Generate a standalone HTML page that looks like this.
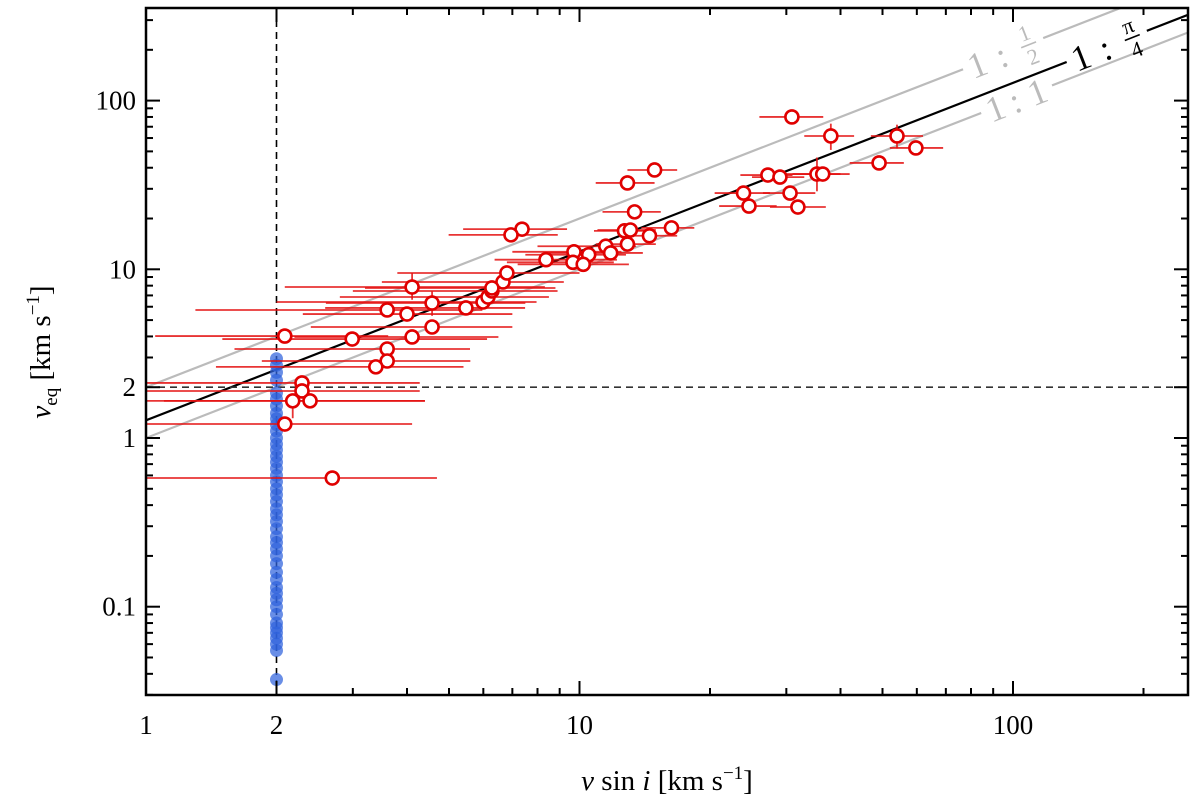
<!DOCTYPE html>
<html><head><meta charset="utf-8"><style>
body{margin:0;background:#fff;}
svg{display:block;font-family:"Liberation Serif",serif;}
</style></head><body>
<svg id="chart" width="1200" height="808" viewBox="0 0 1200 808">
<g id="plot"></g>
</svg>
<script>
const redX=[2.09,2.99,3.60,4.11,4.00,4.57,4.57,4.11,3.60,3.60,3.39,5.47,5.99,6.15,6.28,6.66,6.80,2.29,2.29,2.18,2.39,2.09,2.69,14.9,12.9,13.4,7.37,6.95,12.7,13.1,16.3,14.5,12.9,11.5,11.8,9.71,9.66,10.5,10.2,8.37,6.28,30.9,38.0,54.0,59.7,49.1,27.2,29.0,35.3,36.4,23.9,24.6,30.6,31.9];
const redY=[4.02,3.86,5.74,7.85,5.43,6.31,4.55,3.97,3.37,2.86,2.64,5.90,6.40,6.85,7.44,8.41,9.51,2.12,1.90,1.66,1.66,1.21,0.579,38.8,32.5,21.9,17.3,16.0,16.9,17.1,17.6,15.8,14.1,13.7,12.5,12.7,11.0,12.2,10.7,11.4,7.75,80.0,61.7,61.7,52.4,42.7,36.2,35.2,36.7,36.7,28.3,23.7,28.3,23.4];
const redXlo=[1.05,1.50,1.30,2.09,2.3,2.6,2.4,2.2,1.60,1.85,1.45,2.59,2.0,2.8,3.0,3.5,3.8,1.0,1.0,1.0,1.1,1.0,1.0,12.9,10.9,11.3,5.39,4.99,10.8,11.0,13.9,12.5,10.9,8.0,8.5,7.0,6.8,7.5,7.2,6.37,3.2,26.0,33,47,52,42,23.5,25,30,31,20.5,21,26.5,27.5];
const redXhi=[3.62,6.12,5.97,8.32,7.0,7.5,7.0,6.5,5.59,5.6,5.4,7.49,7.96,8.5,8.9,9.2,10.0,4.28,4.28,4.40,4.40,4.11,4.69,16.8,14.9,15.4,9.36,8.91,14.8,15.0,18.4,16.8,15.0,13.5,14.0,12.5,12.0,12.8,13.0,12.2,8.8,36.5,43,62,69,56,31,33,40,42,27.5,28.5,35,37];
const yerrIdx=[3,5,19,42,43,48];
const yerrLo=[6.6,5.3,1.31,51,52,29];
const yerrHi=[9.5,7.4,1.66,73,72,46];
const blueY=[2.95,2.7,2.45,2.2,1.85,1.7,1.55,1.4,1.3,1.2,1.1,1.0,0.92,0.85,0.78,0.72,0.66,0.6,0.55,0.5,0.46,0.42,0.38,0.35,0.32,0.29,0.26,0.24,0.22,0.2,0.18,0.16,0.145,0.13,0.12,0.11,0.1,0.09,0.08,0.075,0.07,0.065,0.06,0.055,0.037];
const blueXval=2;
const xTicks=[1,2,10,100];
const xTickLabels=["1","2","10","100"];
const yTicks=[0.1,1,2,10,100];
const yTickLabels=["0.1","1","2","10","100"];
const lineRatios=[4/Math.PI,2,1];

const L=146,R=1188,T=8,B=695;
const xmin=0,xdec=433.5,ydec=168.7,y1px=438;
function X(v){return L+(Math.log10(v)-xmin)*xdec;}
function Y(v){return y1px-Math.log10(v)*ydec;}
const NS="http://www.w3.org/2000/svg";
const g=document.getElementById('plot');
function mk(tag,attrs,parent){const e=document.createElementNS(NS,tag);for(const k in attrs)e.setAttribute(k,attrs[k]);(parent||g).appendChild(e);return e;}
const clip=mk('clipPath',{id:'cp'});mk('rect',{x:L,y:T,width:R-L,height:B-T},clip);
const pg=mk('g',{'clip-path':'url(#cp)'});


const xa=0.8,xb=300;
lineRatios.forEach((r,i)=>{
 const l=mk('line',{x1:X(xa),y1:Y(xa*r),x2:X(xb),y2:Y(xb*r),stroke:i==0?'#000':'#bbb','stroke-width':2.2},pg);
 
 
});
const dv=mk('line',{x1:X(blueXval),y1:T,x2:X(blueXval),y2:B,stroke:'#000','stroke-width':1.6,'stroke-dasharray':'7,5'},pg);


const dh=mk('line',{x1:L,y1:Y(2),x2:R,y2:Y(2),stroke:'#333','stroke-width':1.6,'stroke-dasharray':'7,5'},pg);


function label(xv,r,w,f,color,name){
 const ang=-Math.atan(ydec/xdec)*180/Math.PI;
 const gg=mk('g',{transform:`translate(${X(xv)},${Y(xv*r)}) rotate(${ang})`},pg);
 
 
 mk('rect',{x:-6,y:-6,width:w,height:12,fill:'#fff'},gg);
 f(gg,color);
}
function frac(gg,c,num,den){
 mk('text',{x:0,y:13,'font-size':36,fill:c},gg).textContent='1';
 mk('text',{x:30,y:13,'font-size':36,fill:c},gg).textContent=':';
 mk('text',{x:64,y:-4,'font-size':22,fill:c,'text-anchor':'middle'},gg).textContent=num;
 mk('line',{x1:56,y1:1,x2:72,y2:1,stroke:c,'stroke-width':1.6},gg);
 mk('text',{x:64,y:21,'font-size':22,fill:c,'text-anchor':'middle'},gg).textContent=den;
}
label(137,4/Math.PI,86,(gg,c)=>frac(gg,c,'π','4'),'#000','label-pi-4');
label(79,2,86,(gg,c)=>frac(gg,c,'1','2'),'#bbb','label-half');
label(87,1,76,(gg,c)=>{mk('text',{x:0,y:13,'font-size':36,fill:c},gg).textContent='1';mk('text',{x:25,y:13,'font-size':36,fill:c},gg).textContent=':';mk('text',{x:45,y:13,'font-size':36,fill:c},gg).textContent='1';},'#bbb','label-1-1');
blueY.forEach(v=>{
 const c=mk('circle',{cx:X(blueXval),cy:Y(v),r:6.5,fill:'#2f62dc','fill-opacity':0.72},pg);
 
 
});
redX.forEach((v,i)=>{
 const e=mk('line',{x1:X(redXlo[i]),y1:Y(redY[i]),x2:X(redXhi[i]),y2:Y(redY[i]),stroke:'#e41010','stroke-width':1.8,'stroke-opacity':0.85},pg);
 
 
});
yerrIdx.forEach((idx,j)=>{
 const e=mk('line',{x1:X(redX[idx]),y1:Y(yerrLo[j]),x2:X(redX[idx]),y2:Y(yerrHi[j]),stroke:'#e41010','stroke-width':1.8,'stroke-opacity':0.85},pg);
 
 
});
redX.forEach((v,i)=>{
 const c=mk('circle',{cx:X(v),cy:Y(redY[i]),r:6.5,fill:'#fff',stroke:'#e00000','stroke-width':2.6},pg);
 
 
});
const tg=mk('g',{stroke:'#000','stroke-width':2});


for(let d=0;d<=2;d++)for(let m=1;m<=9;m++){const v=m*Math.pow(10,d);const x=X(v);if(x>R)continue;const len=(m==1||v==2)?14:7;
 mk('line',{x1:x,y1:B,x2:x,y2:B-len},tg);mk('line',{x1:x,y1:T,x2:x,y2:T+len},tg);}
for(let d=-2;d<=2;d++)for(let m=1;m<=9;m++){const v=m*Math.pow(10,d);const y=Y(v);if(y<T||y>B)continue;const len=(m==1||v==2)?14:7;
 mk('line',{x1:L,y1:y,x2:L+len,y2:y},tg);mk('line',{x1:R,y1:y,x2:R-len,y2:y},tg);}
const fr=mk('rect',{x:L,y:T,width:R-L,height:B-T,fill:'none',stroke:'#000','stroke-width':2.5});


xTicks.forEach((v,i)=>{const t=mk('text',{x:X(v),y:734,'font-size':27,'text-anchor':'middle'});t.textContent=xTickLabels[i];
 
 });
yTicks.forEach((v,i)=>{const t=mk('text',{x:136,y:Y(v)+9,'font-size':27,'text-anchor':'end'});t.textContent=yTickLabels[i];
 
 });
</script>
<svg style="position:absolute;left:0;top:0" width="1200" height="808">
<text x="667" y="790" font-size="29" text-anchor="middle" font-family="Liberation Serif,serif"><tspan font-style="italic">v</tspan> sin <tspan font-style="italic">i</tspan> [km s<tspan font-size="19" dy="-11">−1</tspan><tspan dy="11">]</tspan></text>
<text transform="translate(50,352) rotate(-90)" font-size="29" text-anchor="middle" font-family="Liberation Serif,serif"><tspan font-style="italic">v</tspan><tspan font-size="19" dy="7">eq</tspan><tspan dy="-7"> [km s</tspan><tspan font-size="19" dy="-11">−1</tspan><tspan dy="11">]</tspan></text>
</svg>
</body></html>
